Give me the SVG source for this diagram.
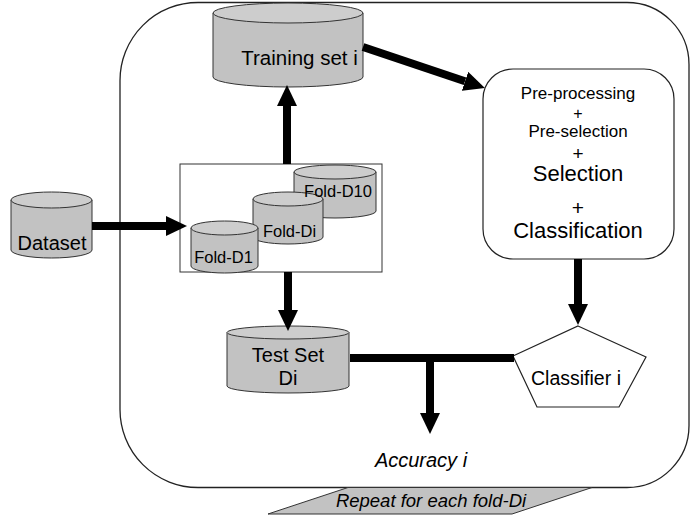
<svg xmlns="http://www.w3.org/2000/svg" width="691" height="517" viewBox="0 0 691 517">
<style>
text{font-family:"Liberation Sans",Arial,sans-serif;fill:#000}
.body{fill:#c2c2c2;stroke:#333;stroke-width:1}
.top{fill:#cdcdcd;stroke:#333;stroke-width:1}
.frame{fill:none;stroke:#222;stroke-width:1.3}
.conn{stroke:#000;stroke-width:8;fill:none}
.it{font-style:italic}
</style>
<defs>
<marker id="ah" markerUnits="userSpaceOnUse" markerWidth="22" markerHeight="20" refX="0" refY="10" orient="auto">
<path d="M0,0 L21,10 L0,20 z" fill="#000"/>
</marker>
</defs>
<rect width="691" height="517" fill="#fff"/>
<g id="loop">
<path d="M198,2.5 L627,2.5 A62,62 0 0 1 689,64.5 L689,425.5 A62,62 0 0 1 627,487.5 L198,487.5 A78,78 0 0 1 120,409.5 L120,80.5 A78,78 0 0 1 198,2.5 Z" class="frame"/>
</g>
<g id="repeat">
<polygon points="348,487.5 592,487.5 512,514 268,514" fill="#c2c2c2" stroke="#333" stroke-width="1"/>
<text x="431" y="507" font-size="18.5" text-anchor="middle" class="it">Repeat for each fold-Di</text>
</g>
<g id="folds">
<rect x="180" y="164" width="202" height="108" fill="#fff" stroke="#333" stroke-width="1"/>
<path d="M294,172 L294,211 A41,7 0 0 0 376,211 L376,172 Z" class="body"/>
<ellipse cx="335" cy="172" rx="41" ry="7" class="top"/>
<path d="M253,199 L253,237 A35,7 0 0 0 323,237 L323,199 Z" class="body"/>
<ellipse cx="288" cy="199" rx="35" ry="7" class="top"/>
<path d="M191,228 L191,266 A33.5,7 0 0 0 258,266 L258,228 Z" class="body"/>
<ellipse cx="224.5" cy="228" rx="33.5" ry="7" class="top"/>
<text x="338" y="197" font-size="16.5" text-anchor="middle">Fold-D10</text>
<text x="289.5" y="237" font-size="16.5" text-anchor="middle">Fold-Di</text>
<text x="223.5" y="263" font-size="16.5" text-anchor="middle">Fold-D1</text>
</g>
<g id="dataset">
<path d="M11,200 L11,250 A40.5,8 0 0 0 92,250 L92,200 Z" class="body"/>
<ellipse cx="51.5" cy="200" rx="40.5" ry="8" class="top"/>
<text x="52" y="250" font-size="20" text-anchor="middle">Dataset</text>
</g>
<g id="training">
<path d="M213,13 L213,77 A75,10 0 0 0 363,77 L363,13 Z" class="body"/>
<ellipse cx="288" cy="13" rx="75" ry="10" class="top"/>
<text x="299.5" y="65" font-size="20.5" text-anchor="middle">Training set i</text>
</g>
<g id="testset">
<path d="M227,332.5 L227,386 A61,7 0 0 0 349,386 L349,332.5 Z" class="body"/>
<ellipse cx="288" cy="332.5" rx="61" ry="6.5" class="top"/>
<text x="288" y="362" font-size="20" text-anchor="middle">Test Set</text>
<text x="288" y="385" font-size="20" text-anchor="middle">Di</text>
</g>
<g id="process">
<rect x="483" y="69" width="191" height="190" rx="30" ry="30" fill="#fff" stroke="#222" stroke-width="1.2"/>
<text x="578" y="99" font-size="17" text-anchor="middle">Pre-processing</text>
<text x="578" y="119" font-size="16" text-anchor="middle">+</text>
<text x="578" y="137" font-size="17" text-anchor="middle">Pre-selection</text>
<text x="578" y="160" font-size="19" text-anchor="middle">+</text>
<text x="578" y="181" font-size="22" text-anchor="middle">Selection</text>
<text x="578" y="215" font-size="21" text-anchor="middle">+</text>
<text x="578" y="238" font-size="22" text-anchor="middle">Classification</text>
</g>
<g id="classifier">
<polygon points="578,326 646,357 619,407 537,407 513,356" fill="#fff" stroke="#222" stroke-width="1.2"/>
<text x="576" y="385" font-size="19.5" text-anchor="middle">Classifier i</text>
</g>
<g id="accuracy">
<text x="421" y="467" font-size="20" text-anchor="middle" class="it">Accuracy i</text>
</g>
<g id="connectors">
<line x1="92" y1="226" x2="166" y2="226" class="conn" marker-end="url(#ah)"/>
<line x1="287" y1="164" x2="287" y2="106" class="conn" marker-end="url(#ah)"/>
<line x1="363" y1="47" x2="465" y2="81.3" class="conn" marker-end="url(#ah)"/>
<line x1="578" y1="259" x2="578" y2="304" class="conn" marker-end="url(#ah)"/>
<line x1="288" y1="272" x2="288" y2="310" class="conn" marker-end="url(#ah)"/>
<line x1="350" y1="358" x2="514" y2="358" class="conn"/>
<line x1="430" y1="358" x2="430" y2="413" class="conn" marker-end="url(#ah)"/>
</g>
</svg>
